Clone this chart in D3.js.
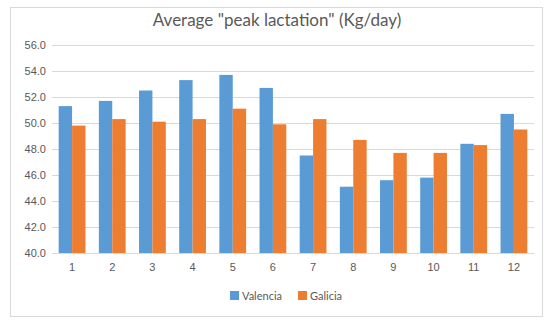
<!DOCTYPE html>
<html>
<head>
<meta charset="utf-8">
<script src="https://cdn.jsdelivr.net/npm/d3@7"></script>
<style>
  body { margin: 0; background: #fff; }
  svg { font-family: Lato, "Open Sans", sans-serif; }
</style>
</head>
<body>
<svg id="chart"></svg>
<script>
let months = ['1', '2', '3', '4', '5', '6', '7', '8', '9', '10', '11', '12'];
let seriesNames = ['Valencia', 'Galicia'];
let valencia = [51.3, 51.7, 52.5, 53.3, 53.7, 52.7, 47.5, 45.1, 45.6, 45.8, 48.4, 50.7];
let galicia = [49.8, 50.3, 50.1, 50.3, 51.1, 49.9, 50.3, 48.7, 47.7, 47.7, 48.3, 49.5];
let yTicks = [40, 42, 44, 46, 48, 50, 52, 54, 56];
let colors = ['#5b9bd5', '#ed7d31'];

function drawChart() {
    let width = 556;
    let height = 327;
    let margin = { top: 45, bottom: 74, left: 52, right: 22 };
    let bodyWidth = width - margin.left - margin.right;
    let bodyHeight = height - margin.top - margin.bottom;

    let svg = d3.select('#chart')
        .attr('width', width)
        .attr('height', height);

    // outer frame
    svg.append('rect')
        .attr('x', 10.5).attr('y', 7.5)
        .attr('width', 532).attr('height', 309)
        .attr('fill', '#fff')
        .attr('stroke', '#d9d9d9');

    svg.append('text')
        .attr('x', 277).attr('y', 26)
        .attr('text-anchor', 'middle')
        .attr('font-size', 17)
        .attr('fill', '#595959')
        .text('Average "peak lactation" (Kg/day)');

    let xScale = d3.scaleBand()
        .domain(months)
        .range([0, bodyWidth])
        .paddingInner(1 / 3)
        .paddingOuter(1 / 6);

    let xInner = d3.scaleBand()
        .domain(seriesNames)
        .range([0, xScale.bandwidth()]);

    let yScale = d3.scaleLinear()
        .domain([40, 56])
        .range([bodyHeight, 0]);

    let body = svg.append('g')
        .attr('transform', `translate(${margin.left},${margin.top})`);

    let axisY = d3.axisLeft(yScale)
        .tickValues(yTicks)
        .tickSize(-bodyWidth)
        .tickFormat(d3.format('.1f'));

    body.append('g')
        .call(axisY)
        .call(g => g.select('.domain').remove())
        .call(g => g.selectAll('line').attr('stroke', '#d9d9d9'))
        .call(g => g.selectAll('text')
            .attr('x', -6)
            .attr('fill', '#595959')
            .attr('font-size', 11));

    let rows = months.map((m, i) => ({ month: m, values: [valencia[i], galicia[i]] }));

    let groups = body.selectAll('.group').data(rows)
        .enter().append('g')
        .attr('transform', d => `translate(${xScale(d.month)},0)`);

    groups.selectAll('rect')
        .data(d => d.values.map((v, j) => ({ name: seriesNames[j], value: v })))
        .enter().append('rect')
        .attr('x', d => xInner(d.name))
        .attr('width', xInner.bandwidth())
        .attr('y', d => yScale(d.value))
        .attr('height', d => bodyHeight - yScale(d.value))
        .attr('fill', (d, j) => colors[j]);

    let axisX = d3.axisBottom(xScale).tickSize(0).tickPadding(10);
    body.append('g')
        .attr('transform', `translate(0,${bodyHeight})`)
        .call(axisX)
        .call(g => g.select('.domain').attr('stroke', '#d9d9d9'))
        .call(g => g.selectAll('text')
            .attr('fill', '#595959')
            .attr('font-size', 11));

    // legend
    let legendX = [230, 298];
    let legend = svg.append('g');
    seriesNames.forEach((name, i) => {
        legend.append('rect')
            .attr('x', legendX[i]).attr('y', 291)
            .attr('width', 9).attr('height', 9)
            .attr('fill', colors[i]);
        legend.append('text')
            .attr('x', legendX[i] + 12).attr('y', 299.5)
            .attr('font-size', 11)
            .attr('fill', '#595959')
            .text(name);
    });
}

drawChart();
</script>
</body>
</html>
